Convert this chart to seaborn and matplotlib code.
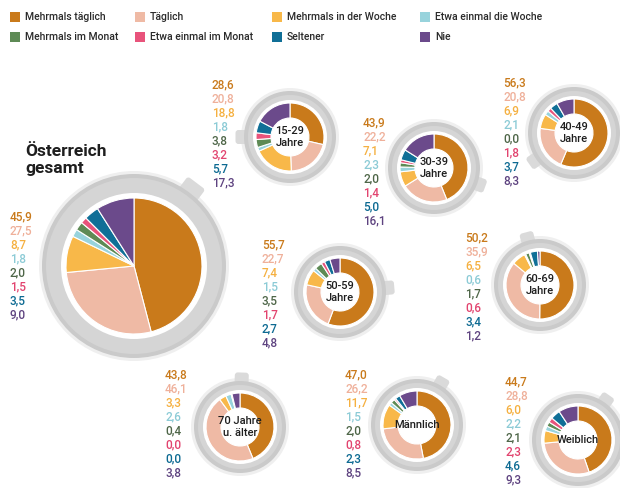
import matplotlib
matplotlib.use("Agg")
import matplotlib.pyplot as plt
from matplotlib import patches, transforms
import numpy as np
import seaborn as sns

sns.set_theme(style="white")
plt.rcParams["font.family"] = ["Roboto", "DejaVu Sans"]

W, H = 620, 488

categories = [
    "Mehrmals täglich", "Täglich", "Mehrmals in der Woche", "Etwa einmal die Woche",
    "Mehrmals im Monat", "Etwa einmal im Monat", "Seltener", "Nie",
]
palette = sns.color_palette([
    "#c97a1b", "#efbaa5", "#f8b849", "#98d3dc",
    "#5e8a55", "#e8537b", "#106f97", "#6b4a8b",
])
text_colors = ["#c97a1b", "#efb09a", "#f5b040", "#8ccbd6",
               "#4e6648", "#e2446f", "#0d6a92", "#5e4380"]

groups = ["Österreich gesamt", "15-29\nJahre", "30-39\nJahre", "40-49\nJahre",
          "50-59\nJahre", "60-69\nJahre", "70 Jahre\nu. älter", "Männlich", "Weiblich"]
gesamt = [45.9, 27.5, 8.7, 1.8, 2.0, 1.5, 3.5, 9.0]
j15_29 = [28.6, 20.8, 18.8, 1.8, 3.8, 3.2, 5.7, 17.3]
j30_39 = [43.9, 22.2, 7.1, 2.3, 2.0, 1.4, 5.0, 16.1]
j40_49 = [56.3, 20.8, 6.9, 2.1, 0.0, 1.8, 3.7, 8.3]
j50_59 = [55.7, 22.7, 7.4, 1.5, 3.5, 1.7, 2.7, 4.8]
j60_69 = [50.2, 35.9, 6.5, 0.6, 1.7, 0.6, 3.4, 1.2]
j70_plus = [43.8, 46.1, 3.3, 2.6, 0.4, 0.0, 0.0, 3.8]
maennlich = [47.0, 26.2, 11.7, 1.5, 2.0, 0.8, 2.3, 8.5]
weiblich = [44.7, 28.8, 6.0, 2.2, 2.1, 2.3, 4.6, 9.3]
series = [gesamt, j15_29, j30_39, j40_49, j50_59, j60_69, j70_plus, maennlich, weiblich]

# layout: cup centre, handle angle, value column (x, first row y)
cups = [
    dict(c=(134, 266), r=68, hole=0, ring=92, handle=53, col=(10, 217)),
    dict(c=(290, 137), r=34, hole=19, ring=46, handle=180, col=(212, 85)),
    dict(c=(434, 168), r=34, hole=19, ring=46, handle=-20, col=(363, 123)),
    dict(c=(574, 133), r=34, hole=19, ring=46, handle=215, col=(503, 83)),
    dict(c=(340, 292), r=34, hole=19, ring=46, handle=5, col=(262, 245)),
    dict(c=(540, 285), r=34, hole=19, ring=46, handle=105, col=(465, 238)),
    dict(c=(240, 427), r=34, hole=19, ring=46, handle=88, col=(165, 375)),
    dict(c=(417, 425), r=34, hole=19, ring=46, handle=60, col=(345, 375)),
    dict(c=(578, 440), r=34, hole=19, ring=46, handle=55, col=(505, 382)),
]


def Y(y):
    return H - y


fig = plt.figure(figsize=(W / 100, H / 100), dpi=100)
ax = fig.add_axes([0, 0, 1, 1])

for i, (name, vals, cup) in enumerate(zip(groups, series, cups)):
    cx, cy = cup["c"][0], Y(cup["c"][1])
    R = cup["ring"]
    big = cup["hole"] == 0
    # shadow
    ax.add_patch(patches.Circle((cx, cy), R + 3, color="#efefef", zorder=0.2, lw=0))
    # handle
    L, Wd = (20, 22) if big else (13, 14)
    a = np.deg2rad(cup["handle"])
    hx, hy = cx + (R + 2) * np.cos(a), cy + (R + 2) * np.sin(a)
    hnd = patches.FancyBboxPatch((-L / 2, -Wd / 2), L, Wd,
                                 boxstyle="round,pad=0,rounding_size=3",
                                 fc="#dadada", ec="none", zorder=0.3)
    hnd.set_transform(transforms.Affine2D().rotate_deg(cup["handle"]).translate(hx, hy) + ax.transData)
    ax.add_patch(hnd)
    # ring
    ax.add_patch(patches.Circle((cx, cy), R, color="#cacaca", zorder=0.4, lw=0))
    ax.add_patch(patches.Circle((cx, cy), R - 4, color="#d5d5d5", zorder=0.45, lw=0))
    ax.add_patch(patches.Circle((cx, cy), cup["r"] + (5 if big else 3), color="white", zorder=0.5, lw=0))
    wp = dict(edgecolor="white", linewidth=0.8)
    if not big:
        wp["width"] = cup["r"] - cup["hole"]
    ax.pie(vals, colors=palette, startangle=90, counterclock=False,
           center=(cx, cy), radius=cup["r"], wedgeprops=wp)
    if big:
        ax.text(25, Y(144), "Österreich\ngesamt", fontsize=12.5, fontweight="bold",
                color="#1e1e1e", va="top", ha="left", linespacing=1.15)
    else:
        ax.text(cx, cy, name, fontsize=8, fontweight="medium", color="#1e1e1e",
                ha="center", va="center", linespacing=1.3)
    # value column
    x0, y0 = cup["col"]
    for k, v in enumerate(vals):
        ax.text(x0, Y(y0 + k * 14.0), f"{v:.1f}".replace(".", ","), fontsize=8.5,
                fontweight="medium", color=text_colors[k], ha="left", va="center")

# legend
leg_x = [10, 135, 272, 420]
for k, cat in enumerate(categories):
    col, row = k % 4, k // 4
    y = 17 + row * 20
    ax.add_patch(patches.Rectangle((leg_x[col], Y(y) - 5), 10, 10, color=palette[k], lw=0))
    ax.text(leg_x[col] + 15, Y(y), cat, fontsize=7.5, fontweight="medium", color="#2a2a2a",
            ha="left", va="center")

ax.set_xlim(0, W)
ax.set_ylim(0, H)
ax.set_aspect("equal")
ax.axis("off")
fig.savefig("out.png", dpi=100)
